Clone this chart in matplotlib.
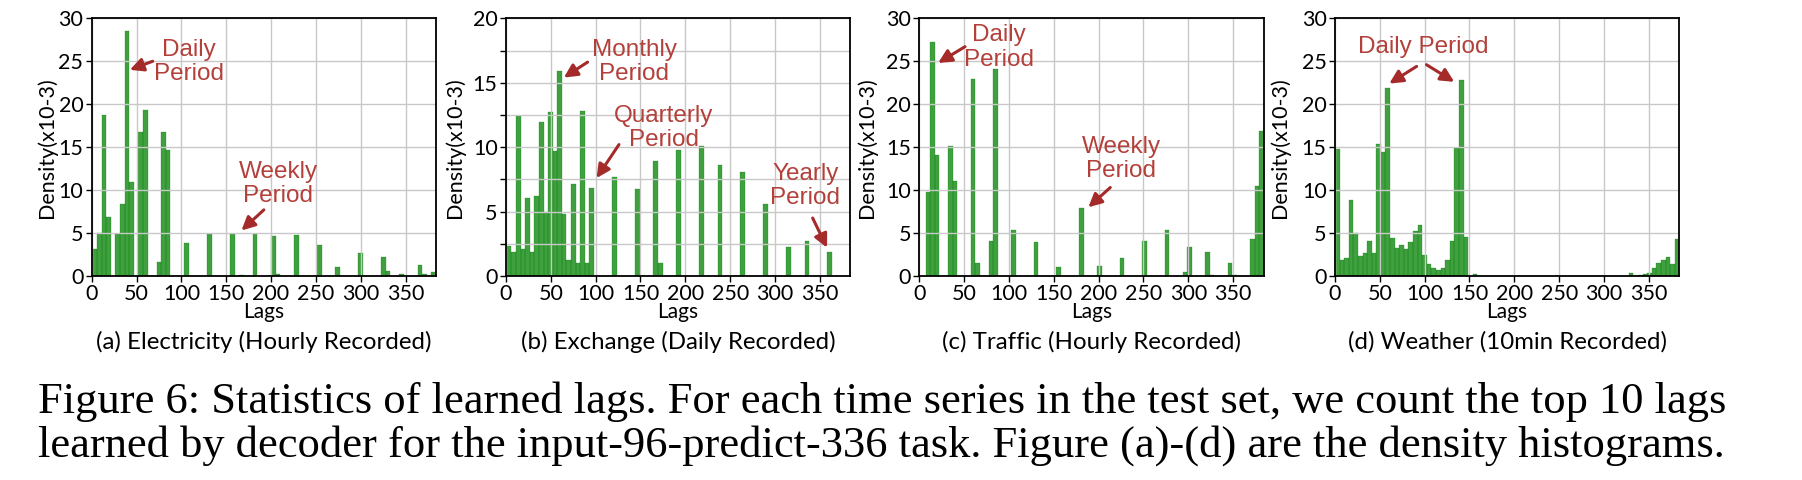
import numpy as np
import matplotlib
matplotlib.use("Agg")
import matplotlib.pyplot as plt

# ---------------- data ----------------
n_bins = 75
# (a) Electricity
a_range = (1, 384)
a_bins = [0, 1, 2, 3, 5, 6, 7, 8, 10, 11, 14, 15, 16, 20, 25, 30, 32, 35, 39, 40,
          44, 49, 53, 58, 63, 64, 67, 71, 72, 74]
a_density = [3.1, 5.0, 18.7, 6.9, 4.9, 8.4, 28.5, 10.9, 16.8, 19.3, 1.6, 16.8, 14.7,
             3.8, 4.9, 4.9, 0.1, 4.9, 4.7, 0.23, 4.8, 3.6, 1.05, 2.7, 2.2, 0.58,
             0.23, 1.3, 0.2, 0.47]
# (b) Exchange
b_range = (1, 384)
b_bins = [0, 1, 2, 3, 4, 5, 6, 7, 8, 9, 10, 11, 12, 13, 14, 15, 16, 17, 18, 23, 28,
          32, 33, 37, 42, 46, 51, 56, 61, 65, 70]
b_density = [2.3, 1.9, 12.4, 2.1, 6.05, 1.86, 6.2, 11.95, 4.97, 12.7, 9.7, 15.9, 4.8,
             1.24, 7.14, 1.0, 12.8, 1.0, 6.83, 7.68, 6.75, 8.93, 1.0, 9.78, 10.09,
             8.6, 8.07, 5.59, 2.25, 2.72, 1.86]
# (c) Traffic
c_range = (7.4, 384)
c_bins = [0, 1, 2, 5, 6, 10, 11, 14, 15, 19, 24, 29, 34, 38, 43, 48, 53, 57, 58, 62,
          63, 67, 68, 72, 73, 74]
c_density = [9.8, 27.2, 14.1, 15.1, 11.1, 22.9, 1.5, 4.07, 24.1, 5.36, 3.96, 1.05,
             7.92, 1.16, 2.1, 4.07, 5.36, 0.47, 3.38, 2.79, 0.1, 1.51, 0.1, 4.3,
             10.48, 16.88]
# (d) Weather
d_range = (0, 384)
d_bins = list(range(29)) + [30, 31, 32, 33, 34, 35, 36, 37, 55, 56, 57, 58, 64, 66,
                            67, 68, 69, 70, 71, 72, 73, 74]
d_density = [14.8, 1.86, 2.1, 8.85, 5.0, 2.33, 2.68, 4.07, 2.68, 15.4, 14.4, 21.9,
             4.42, 3.26, 3.6, 3.14, 3.96, 5.24, 5.94, 2.44, 1.4, 0.93, 0.7, 0.93,
             1.86, 4.07, 14.9, 22.8, 4.54,
             0.23, 0.05, 0.05, 0.05, 0.05, 0.05, 0.05, 0.05, 0.05, 0.05, 0.05, 0.05,
             0.35, 0.1, 0.23, 0.35, 0.93, 1.51, 1.86, 2.2, 1.4, 4.3]

subtitles = ["(a) Electricity (Hourly Recorded)", "(b) Exchange (Daily Recorded)",
             "(c) Traffic (Hourly Recorded)", "(d) Weather (10min Recorded)"]
y_max = [30, 20, 30, 30]
x_ticks = [0, 50, 100, 150, 200, 250, 300, 350]

# annotations: (text, text_xy, [(arrow_tail, arrow_tip), ...])
annots = [
    [("Daily\nPeriod", (108, 24.9), [((68, 25.0), (42.5, 24.0))]),
     ("Weekly\nPeriod", (208, 10.7), [((192, 7.7), (167, 5.3))])],
    [("Monthly\nPeriod", (143, 16.6), [((91, 16.6), (64.5, 15.4))]),
     ("Quarterly\nPeriod", (176, 11.5), [((126, 10.2), (101, 7.6))]),
     ("Yearly\nPeriod", (334, 7.0), [((342, 4.5), (358, 2.2))])],
    [("Daily\nPeriod", (89, 26.6), [((51, 26.7), (21, 24.8))]),
     ("Weekly\nPeriod", (225, 13.6), [((213, 10.3), (188.5, 8.0))])],
    [("Daily Period", (98, 26.7), [((91, 24.4), (60.5, 22.4)),
                                    ((102, 24.6), (133, 22.6))])],
]

panels = [(a_range, a_bins, a_density), (b_range, b_bins, b_density),
          (c_range, c_bins, c_density), (d_range, d_bins, d_density)]

# ---------------- figure ----------------
W, H = 1802, 480
fig = plt.figure(figsize=(W / 100, H / 100), dpi=100)
lefts = [91.7, 506, 919.3, 1335]
ax_w, top_px, bot_px = 344.3, 18.3, 276
ylab_x = [-0.102, -0.118, -0.122, -0.13]

sans = ["Lato", "DejaVu Sans"]
txt_color = "#b3403a"
arrow_color = "#a52a2a"

for i, (rng, bins, dens) in enumerate(panels):
    ax = fig.add_axes([lefts[i] / W, 1 - bot_px / H, ax_w / W, (bot_px - top_px) / H])
    edges = np.linspace(rng[0], rng[1], n_bins + 1)
    width = edges[1] - edges[0]
    ax.bar(edges[np.array(bins)], dens, width=width, align="edge",
           color="green", alpha=0.75, edgecolor="green", linewidth=0.25, zorder=1)
    ax.set_xlim(0, 384)
    ax.set_ylim(0, y_max[i])
    ax.set_xticks(x_ticks)
    ax.set_yticks(np.arange(0, y_max[i] + 1, 5))
    if y_max[i] == 20:
        ax.set_yticks(np.arange(0, y_max[i] + 0.1, 2.5), minor=True)
        ax.tick_params(axis="y", which="minor", direction="out", length=4, width=1)
    ax.set_axisbelow(False)
    ax.grid(True, which="both", color="#c8c8c8", linewidth=1.0, zorder=2.5)
    for s in ax.spines.values():
        s.set_linewidth(1.3)
        s.set_zorder(3)
    ax.tick_params(axis="both", which="major", direction="out", length=4, width=1,
                   labelsize=15.5, pad=2)
    for lab in ax.get_xticklabels() + ax.get_yticklabels():
        lab.set_family(sans)
    ax.set_xlabel("Lags", fontsize=15, family=sans)
    ax.xaxis.set_label_coords(0.5, -0.10)
    ax.set_ylabel("Density(x10-3)", fontsize=15.5, family=sans)
    ax.yaxis.set_label_coords(ylab_x[i], 0.5)

    for text, txy, arrows in annots[i]:
        ax.text(txy[0], txy[1], text, ha="center", va="center", fontsize=17.5,
                family=["Liberation Sans", "DejaVu Sans"], color=txt_color,
                linespacing=1.15, zorder=5)
        for tail, tip in arrows:
            ax.annotate("", xy=tip, xytext=tail,
                        arrowprops=dict(arrowstyle="-|>", color=arrow_color,
                                        lw=2.2, mutation_scale=20,
                                        shrinkA=0, shrinkB=0), zorder=5)

    fig.text((lefts[i] + ax_w / 2) / W, 1 - 342 / H, subtitles[i], ha="center",
             va="center", fontsize=17.3, family=sans)

serif = ["Liberation Serif", "DejaVu Serif"]
fig.text(38 / W, 1 - 402 / H,
         "Figure 6: Statistics of learned lags. For each time series in the test set, "
         "we count the top 10 lags", ha="left", va="center", fontsize=32, family=serif)
fig.text(38 / W, 1 - 446 / H,
         "learned by decoder for the input-96-predict-336 task. Figure (a)-(d) are the "
         "density histograms.", ha="left", va="center", fontsize=32, family=serif)

fig.savefig("out.png", dpi=100)
